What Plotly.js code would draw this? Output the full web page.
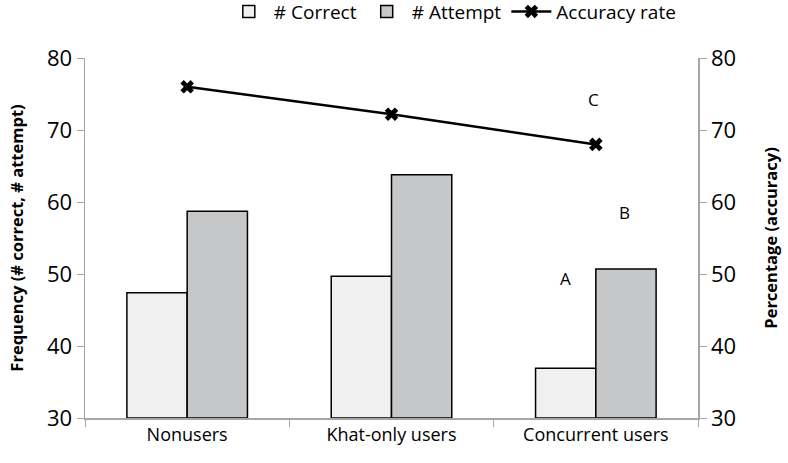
<!DOCTYPE html>
<html>
<head>
<meta charset="utf-8">
<script src="https://cdn.plot.ly/plotly-3.0.1.min.js"></script>
<style>
  html, body { margin: 0; padding: 0; background: #fff; }
  #chart { width: 788px; height: 463px; }
</style>
</head>
<body>
<div id="chart"></div>
<script>
// Chart data
const groups = ['Nonusers', 'Khat-only users', 'Concurrent users'];
const numCorrect = [47.4, 49.7, 36.9];
const numAttempt = [58.7, 63.8, 50.7];
const accuracyRate = [76.0, 72.2, 68.0];

const noteLabels = ['A', 'B', 'C'];
const noteX = [1.85, 2.14, 1.99];
const noteY = [49.4, 58.6, 74.2];

const axisGrey = '#a6a6a6';
const fontFamily = '"Open Sans", "DejaVu Sans", sans-serif';

const traces = [
  {
    type: 'bar',
    name: '# Correct',
    x: groups,
    y: numCorrect.map(v => v - 30),
    base: 30,
    marker: { color: '#f0f0f0', line: { color: '#000', width: 1.5 } },
    hoverinfo: 'y'
  },
  {
    type: 'bar',
    name: '# Attempt',
    x: groups,
    y: numAttempt.map(v => v - 30),
    base: 30,
    marker: { color: '#c6c7c9', line: { color: '#000', width: 1.5 } },
    hoverinfo: 'y'
  },
  {
    type: 'scatter',
    mode: 'lines+markers',
    name: 'Accuracy rate',
    x: groups,
    y: accuracyRate,
    yaxis: 'y2',
    line: { color: '#000', width: 2.5 },
    marker: { symbol: 'x', size: 12, color: '#000' }
  }
];

const layout = {
  width: 788,
  height: 463,
  margin: { l: 85, r: 90, t: 58, b: 45, autoexpand: false },
  paper_bgcolor: '#fff',
  plot_bgcolor: '#fff',
  font: { family: fontFamily, color: '#000' },
  barmode: 'group',
  bargap: 0.41,
  bargroupgap: 0,
  showlegend: true,
  legend: {
    orientation: 'h',
    x: 0.6,
    xanchor: 'center',
    yref: 'container',
    y: 0.975,
    yanchor: 'middle',
    font: { size: 19, family: fontFamily },
    itemwidth: 40,
    traceorder: 'normal'
  },
  xaxis: {
    type: 'category',
    showline: true,
    linecolor: axisGrey,
    linewidth: 1.5,
    ticks: 'outside',
    tickson: 'boundaries',
    ticklen: 7,
    tickcolor: axisGrey,
    tickfont: { size: 18 },
    showgrid: false,
    zeroline: false
  },
  yaxis: {
    range: [30, 80],
    dtick: 10,
    showline: true,
    linecolor: axisGrey,
    linewidth: 1.5,
    ticks: 'outside',
    ticklen: 7,
    tickcolor: axisGrey,
    tickfont: { size: 22 },
    showgrid: false,
    zeroline: false,
    title: { text: '<b>Frequency (# correct, # attempt)</b>', font: { size: 16.5 }, standoff: 19 }
  },
  yaxis2: {
    range: [30, 80],
    dtick: 10,
    overlaying: 'y',
    side: 'right',
    showline: true,
    linecolor: axisGrey,
    linewidth: 1.5,
    ticks: 'outside',
    ticklen: 7,
    tickcolor: axisGrey,
    tickfont: { size: 22 },
    showgrid: false,
    zeroline: false,
    title: { text: '<b>Percentage (accuracy)</b>', font: { size: 16.5 }, standoff: 30 }
  },
  annotations: noteLabels.map((t, i) => ({
    x: noteX[i],
    y: noteY[i],
    xref: 'x',
    yref: 'y',
    text: t,
    showarrow: false,
    font: { size: 17, family: fontFamily }
  }))
};

Plotly.newPlot('chart', traces, layout, { displayModeBar: false, staticPlot: true });
</script>
</body>
</html>
